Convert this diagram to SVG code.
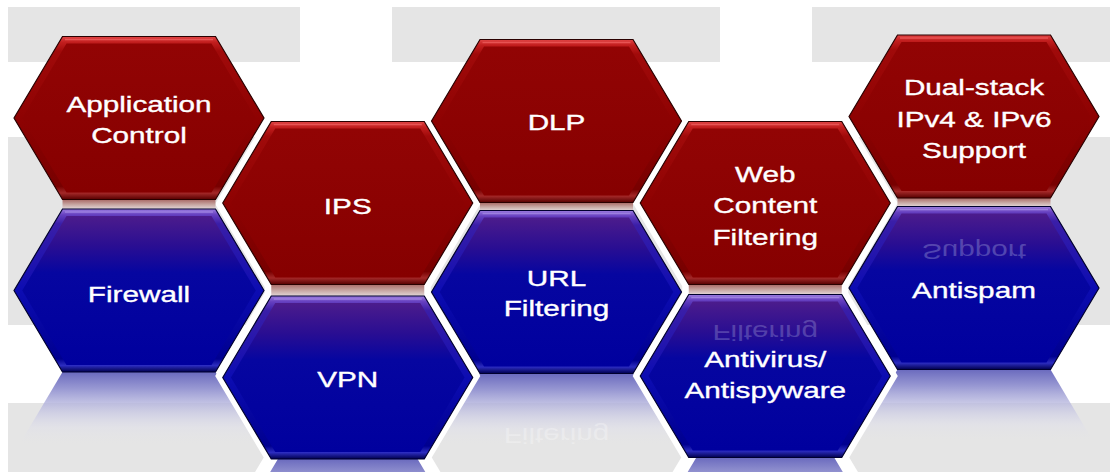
<svg xmlns="http://www.w3.org/2000/svg" width="1110" height="472" viewBox="0 0 1110 472">
  <style>
    .lbl { font-family: "Liberation Sans", Arial, sans-serif; font-size: 22px; fill: #ffffff; stroke: #ffffff; stroke-width: 0.35; text-anchor: middle; }
    .ghost { font-family: "Liberation Sans", Arial, sans-serif; font-size: 22px; text-anchor: middle; }
    .band { fill: #e5e5e5; }
    .red .edge { fill: url(#redBevel); stroke: #2a0000; stroke-width: 1.2; }
    .red .face { fill: url(#redFace); }
    .red .hl { stroke: #ec5a5a; stroke-width: 1.6; opacity: 0.85; }
    .blue .edge { fill: url(#blueBevel); stroke: #00002e; stroke-width: 1.2; }
    .blue .face { fill: url(#blueFace); }
    .blue .hl { stroke: #a488e4; stroke-width: 1.6; opacity: 0.8; }
    .halo { fill: none; stroke: #ffffff; stroke-width: 13; stroke-linejoin: miter; }
    .gap { fill: url(#gapBand); }
    .refl { fill: url(#reflFade); }
  </style>
  <defs>
    <!-- flat-sided hexagon, 250 wide, 163 tall, centred on the origin -->
    <polygon id="hex" points="-125,0 -76.5,-81.5 76.5,-81.5 125,0 76.5,81.5 -76.5,81.5"/>
    <polygon id="hexIn" points="-116.8,0 -72.5,-74.5 72.5,-74.5 116.8,0 72.5,74.5 -72.5,74.5"/>
    <linearGradient id="redBevel" x1="0" y1="0" x2="0" y2="1">
      <stop offset="0" stop-color="#e04444"/>
      <stop offset="0.035" stop-color="#c21e1e"/>
      <stop offset="0.09" stop-color="#a00a0a"/>
      <stop offset="0.5" stop-color="#8e0202"/>
      <stop offset="0.92" stop-color="#780000"/>
      <stop offset="0.96" stop-color="#a42828"/>
      <stop offset="1" stop-color="#560000"/>
    </linearGradient>
    <linearGradient id="redFace" x1="0" y1="0" x2="0" y2="1">
      <stop offset="0" stop-color="#920404"/>
      <stop offset="1" stop-color="#860000"/>
    </linearGradient>
    <linearGradient id="blueBevel" x1="0" y1="0" x2="0" y2="1">
      <stop offset="0" stop-color="#9c7ce0"/>
      <stop offset="0.035" stop-color="#6640c0"/>
      <stop offset="0.09" stop-color="#3a1ea8"/>
      <stop offset="0.5" stop-color="#0c0cb2"/>
      <stop offset="0.92" stop-color="#000090"/>
      <stop offset="0.96" stop-color="#2c2cc0"/>
      <stop offset="1" stop-color="#00004e"/>
    </linearGradient>
    <linearGradient id="blueFace" x1="0" y1="0" x2="0" y2="1">
      <stop offset="0" stop-color="#4c1c8c"/>
      <stop offset="0.2" stop-color="#2a0e92"/>
      <stop offset="0.38" stop-color="#0606a0"/>
      <stop offset="1" stop-color="#00009e"/>
    </linearGradient>
    <linearGradient id="gapBand" x1="0" y1="0" x2="0" y2="1">
      <stop offset="0" stop-color="#a86864"/>
      <stop offset="0.55" stop-color="#c8a8a4"/>
      <stop offset="1" stop-color="#e2d6d6"/>
    </linearGradient>
    <linearGradient id="reflFade" x1="0" y1="0" x2="0" y2="1">
      <stop offset="0" stop-color="#6a6abe" stop-opacity="1"/>
      <stop offset="0.1" stop-color="#9292d0" stop-opacity="0.95"/>
      <stop offset="0.22" stop-color="#bcbce0" stop-opacity="0.75"/>
      <stop offset="0.34" stop-color="#dcdcec" stop-opacity="0.35"/>
      <stop offset="0.45" stop-color="#e5e5e5" stop-opacity="0"/>
    </linearGradient>
  </defs>

  <!-- background stripes -->
  <g id="background">
    <rect x="0" y="0" width="1110" height="472" fill="#ffffff"/>
    <rect class="band" x="8" y="7" width="292" height="55"/>
    <rect class="band" x="392" y="7" width="328" height="55"/>
    <rect class="band" x="812" y="7" width="298" height="55"/>
    <rect class="band" x="8" y="137" width="1102" height="188"/>
    <rect class="band" x="8" y="403" width="1102" height="69"/>
  </g>

  <!-- mirrored floor reflections under the blue row -->
  <g id="reflections">
    <use href="#hex" class="refl" transform="translate(139,453.5)"/>
    <use href="#hex" class="refl" transform="translate(556.5,455)"/>
    <use href="#hex" class="refl" transform="translate(974,451)"/>
    <use href="#hex" class="refl" transform="translate(347.75,540.5)"/>
    <use href="#hex" class="refl" transform="translate(765.25,539)"/>
    <text class="ghost" transform="translate(556.5,428) scale(1.35,-1)" fill="#ffffff" opacity="0.28">Filtering</text>
  </g>

  <!-- white separators along the slanted sides of the offset columns -->
  <g id="separators">
    <polyline class="halo" points="271.25,122.5 222.75,204 271.25,285.5 271.25,294.5 222.75,376 271.25,457.5 222.75,539"/>
    <polyline class="halo" points="424.25,122.5 472.75,204 424.25,285.5 424.25,294.5 472.75,376 424.25,457.5 472.75,539"/>
    <polyline class="halo" points="688.75,121.5 640.25,203 688.75,284.5 688.75,294.5 640.25,376 688.75,457.5 640.25,539"/>
    <polyline class="halo" points="841.75,121.5 890.25,203 841.75,284.5 841.75,294.5 890.25,376 841.75,457.5 890.25,539"/>
  </g>

  <!-- reflective strips between each red and blue cell -->
  <g id="gaps">
    <rect class="gap" x="62.5" y="199.5" width="153" height="9.5"/>
    <rect class="gap" x="271.25" y="284" width="153" height="12"/>
    <rect class="gap" x="480" y="202.5" width="153" height="8"/>
    <rect class="gap" x="688.75" y="284.5" width="153" height="10"/>
    <rect class="gap" x="897.5" y="198" width="153" height="8.5"/>
  </g>

  <g id="connectors"/>

  <!-- column 1 -->
  <g id="app-control" class="red" transform="translate(139,118)">
    <use href="#hex" class="edge"/>
    <use href="#hexIn" class="face"/>
    <line class="hl" x1="-74" y1="-78.5" x2="74" y2="-78.5"/>
  </g>
  <g id="firewall" class="blue" transform="translate(139,290.5)">
    <use href="#hex" class="edge"/>
    <use href="#hexIn" class="face"/>
    <line class="hl" x1="-74" y1="-78.5" x2="74" y2="-78.5"/>
  </g>

  <!-- column 2 -->
  <g id="ips" class="red" transform="translate(347.75,203)">
    <use href="#hex" class="edge"/>
    <use href="#hexIn" class="face"/>
    <line class="hl" x1="-74" y1="-78.5" x2="74" y2="-78.5"/>
  </g>
  <g id="vpn" class="blue" transform="translate(347.75,377.5)">
    <use href="#hex" class="edge"/>
    <use href="#hexIn" class="face"/>
    <line class="hl" x1="-74" y1="-78.5" x2="74" y2="-78.5"/>
  </g>

  <!-- column 3 -->
  <g id="dlp" class="red" transform="translate(556.5,121)">
    <use href="#hex" class="edge"/>
    <use href="#hexIn" class="face"/>
    <line class="hl" x1="-74" y1="-78.5" x2="74" y2="-78.5"/>
  </g>
  <g id="url-filtering" class="blue" transform="translate(556.5,292)">
    <use href="#hex" class="edge"/>
    <use href="#hexIn" class="face"/>
    <line class="hl" x1="-74" y1="-78.5" x2="74" y2="-78.5"/>
  </g>

  <!-- column 4 -->
  <g id="web-content" class="red" transform="translate(765.25,203)">
    <use href="#hex" class="edge"/>
    <use href="#hexIn" class="face"/>
    <line class="hl" x1="-74" y1="-78.5" x2="74" y2="-78.5"/>
  </g>
  <g id="antivirus" class="blue" transform="translate(765.25,376)">
    <use href="#hex" class="edge"/>
    <use href="#hexIn" class="face"/>
    <line class="hl" x1="-74" y1="-78.5" x2="74" y2="-78.5"/>
  </g>

  <!-- column 5 -->
  <g id="dual-stack" class="red" transform="translate(974,116.5)">
    <use href="#hex" class="edge"/>
    <use href="#hexIn" class="face"/>
    <line class="hl" x1="-74" y1="-78.5" x2="74" y2="-78.5"/>
  </g>
  <g id="antispam" class="blue" transform="translate(974,288)">
    <use href="#hex" class="edge"/>
    <use href="#hexIn" class="face"/>
    <line class="hl" x1="-74" y1="-78.5" x2="74" y2="-78.5"/>
  </g>

  <!-- faint mirror images of the red labels on the glossy blue cells -->
  <g id="mirrors">
    <text class="ghost" transform="translate(974,244) scale(1.35,-1)" fill="#9a9ad8" opacity="0.4">Support</text>
    <text class="ghost" transform="translate(765.25,325) scale(1.35,-1)" fill="#b4b4e4" opacity="0.3">Filtering</text>
  </g>

  <!-- labels -->
  <g id="labels">
    <text class="lbl" transform="translate(139,0) scale(1.35,1)"><tspan x="0" y="112">Application</tspan><tspan x="0" y="143">Control</tspan></text>
    <text class="lbl" transform="translate(139,0) scale(1.35,1)"><tspan x="0" y="302">Firewall</tspan></text>
    <text class="lbl" transform="translate(347.75,0) scale(1.35,1)"><tspan x="0" y="214">IPS</tspan></text>
    <text class="lbl" transform="translate(347.75,0) scale(1.35,1)"><tspan x="0" y="387">VPN</tspan></text>
    <text class="lbl" transform="translate(556.5,0) scale(1.35,1)"><tspan x="0" y="130">DLP</tspan></text>
    <text class="lbl" transform="translate(556.5,0) scale(1.35,1)"><tspan x="0" y="286">URL</tspan><tspan x="0" y="316">Filtering</tspan></text>
    <text class="lbl" transform="translate(765.25,0) scale(1.35,1)"><tspan x="0" y="182">Web</tspan><tspan x="0" y="213">Content</tspan><tspan x="0" y="245">Filtering</tspan></text>
    <text class="lbl" transform="translate(765.25,0) scale(1.35,1)"><tspan x="0" y="367">Antivirus/</tspan><tspan x="0" y="398">Antispyware</tspan></text>
    <text class="lbl" transform="translate(974,0) scale(1.35,1)"><tspan x="0" y="95">Dual-stack</tspan><tspan x="0" y="127">IPv4 &amp; IPv6</tspan><tspan x="0" y="158">Support</tspan></text>
    <text class="lbl" transform="translate(974,0) scale(1.35,1)"><tspan x="0" y="298">Antispam</tspan></text>
  </g>
</svg>
